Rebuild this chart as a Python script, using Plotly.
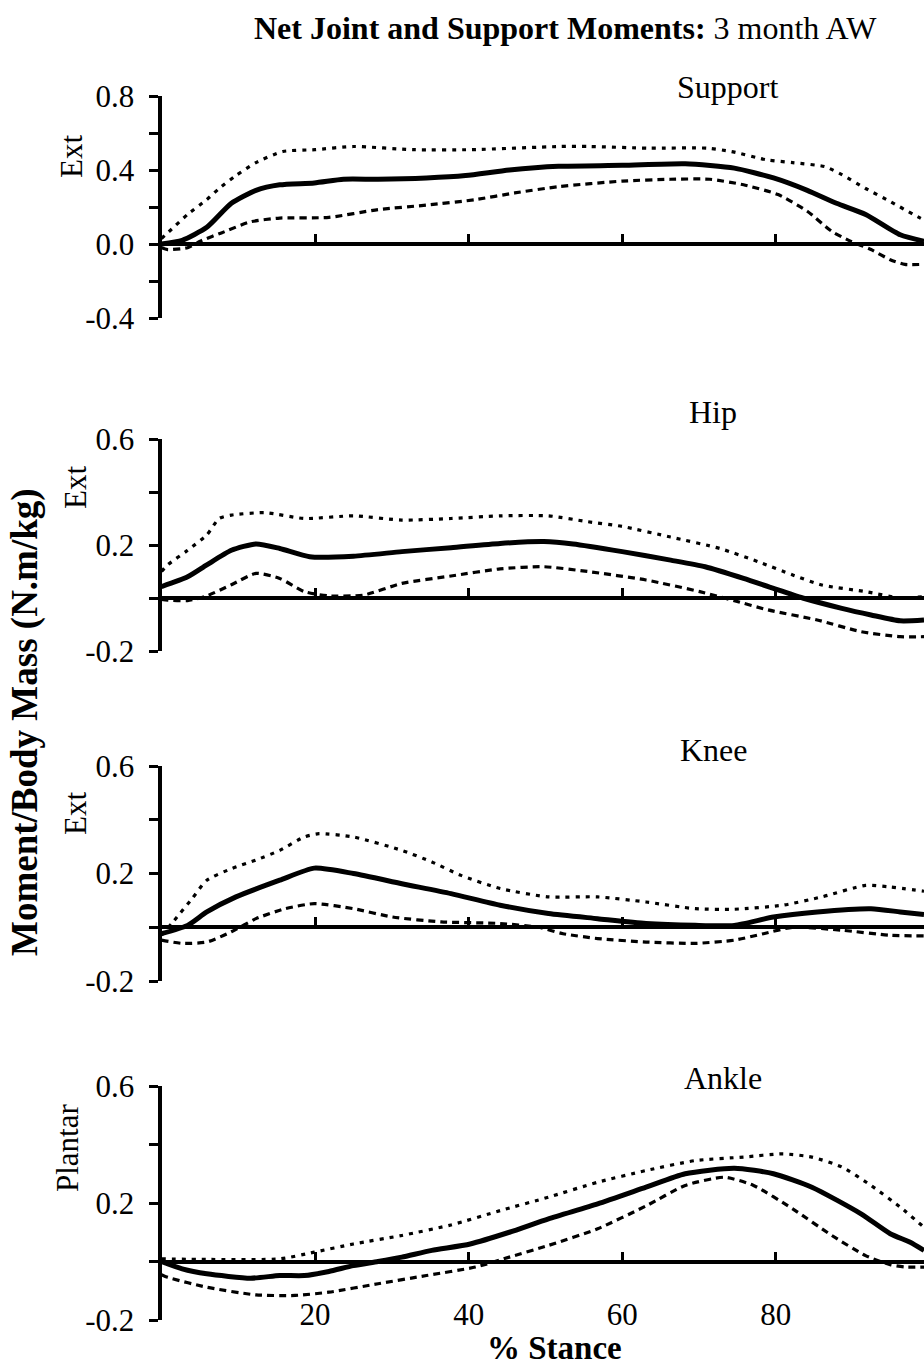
import plotly.graph_objects as go

# ---- % stance samples and moment values (N.m/kg) for each panel ----
support_mean_x = [0, 2.7, 5.9, 9.1, 12.3, 15.4, 19.9, 23.7, 28.2, 34.5, 39.6, 45.3, 51.7, 60.0, 68.2, 74.6, 79.7, 84.1, 87.9, 91.7, 96.2, 99.3]
support_mean = [0, 0.02, 0.09, 0.22, 0.29, 0.32, 0.33, 0.35, 0.35, 0.357, 0.37, 0.40, 0.42, 0.425, 0.434, 0.41, 0.357, 0.29, 0.22, 0.16, 0.05, 0.015]
support_upper_x = [0, 0.8, 3.4, 5.9, 7.5, 9.7, 12.3, 15.8, 20, 25, 32.7, 40.4, 51.9, 55.7, 63.4, 71.1, 74.2, 78.8, 82.2, 86.4, 88.6, 91.7, 94.9, 97.9, 99.3]
support_upper = [0.03, 0.06, 0.16, 0.24, 0.30, 0.37, 0.44, 0.50, 0.51, 0.527, 0.51, 0.51, 0.527, 0.527, 0.518, 0.518, 0.50, 0.455, 0.44, 0.418, 0.375, 0.30, 0.23, 0.16, 0.13]
support_lower_x = [0, 0.8, 3.4, 5.3, 7.8, 11.6, 15.4, 21.8, 28.2, 34.5, 40.9, 46.0, 51.7, 60.0, 66.3, 71.4, 75.8, 80.3, 84.1, 87.3, 89.8, 92.4, 94.9, 96.8, 99.3]
support_lower = [-0.02, -0.03, -0.02, 0.02, 0.06, 0.12, 0.14, 0.144, 0.186, 0.21, 0.24, 0.276, 0.31, 0.34, 0.35, 0.35, 0.32, 0.267, 0.177, 0.068, 0.014, -0.03, -0.085, -0.11, -0.11]

hip_mean_x = [0, 3.4, 5.9, 9.1, 12.3, 15.4, 19.3, 25.0, 31.3, 37.7, 44.1, 49.8, 53.6, 60.0, 66.3, 70.8, 75.8, 79.7, 83.5, 88.6, 92.4, 96.2, 99.3]
hip_mean = [0.043, 0.08, 0.125, 0.18, 0.204, 0.187, 0.156, 0.158, 0.175, 0.19, 0.206, 0.213, 0.204, 0.175, 0.143, 0.118, 0.074, 0.036, 0, -0.039, -0.064, -0.086, -0.083]
hip_upper_x = [0, 0.8, 3.4, 5.9, 7.5, 9.1, 13.5, 18.6, 25.0, 31.3, 37.7, 44.1, 50.4, 55.5, 60.0, 66.3, 72.7, 77.7, 82.2, 86.0, 91.7, 96.2, 99.3]
hip_upper = [0.10, 0.125, 0.18, 0.238, 0.30, 0.313, 0.322, 0.30, 0.31, 0.294, 0.30, 0.31, 0.31, 0.288, 0.27, 0.23, 0.187, 0.137, 0.087, 0.049, 0.024, 0, 0.005]
hip_lower_x = [0, 0.8, 3.4, 5.9, 9.1, 12.3, 15.4, 18.6, 21.8, 26.3, 31.3, 37.7, 44.1, 49.8, 55.5, 63.1, 70.1, 74.6, 79.0, 85.4, 91.1, 96.2, 99.3]
hip_lower = [-0.005, -0.008, -0.01, 0.008, 0.05, 0.093, 0.074, 0.024, 0.008, 0.011, 0.055, 0.083, 0.11, 0.118, 0.10, 0.068, 0.024, -0.01, -0.045, -0.083, -0.127, -0.146, -0.146]

knee_mean_x = [0, 3.4, 5.9, 9.7, 15.4, 19.9, 25.0, 31.3, 37.7, 44.1, 50.4, 56.8, 63.1, 69.5, 74.6, 79.7, 85.4, 92.4, 96.2, 99.3]
knee_mean = [-0.024, 0.007, 0.057, 0.113, 0.175, 0.22, 0.2, 0.162, 0.125, 0.082, 0.051, 0.032, 0.014, 0.007, 0.007, 0.038, 0.057, 0.069, 0.057, 0.047]
knee_upper_x = [0, 1.5, 4.0, 5.9, 9.1, 12.3, 15.4, 18.6, 20.5, 25.0, 31.3, 35.2, 39.0, 44.1, 50.4, 56.8, 63.1, 69.5, 74.6, 80.9, 86.0, 91.7, 94.9, 99.3]
knee_upper = [-0.03, 0.02, 0.107, 0.175, 0.218, 0.25, 0.286, 0.336, 0.348, 0.336, 0.286, 0.243, 0.193, 0.144, 0.113, 0.113, 0.094, 0.069, 0.067, 0.082, 0.113, 0.156, 0.15, 0.134]
knee_lower_x = [0, 2.7, 5.9, 9.1, 12.3, 16.1, 19.9, 25.0, 30.1, 36.4, 44.1, 49.1, 52.3, 56.8, 63.1, 69.5, 74.6, 78.4, 82.2, 88.6, 94.9, 99.3]
knee_lower = [-0.048, -0.06, -0.055, -0.017, 0.032, 0.069, 0.088, 0.069, 0.038, 0.02, 0.014, 0, -0.024, -0.042, -0.055, -0.06, -0.048, -0.024, 0, -0.011, -0.03, -0.032]

ankle_mean_x = [0, 2.7, 5.9, 11.6, 15.4, 18.6, 21.8, 25.0, 28.2, 31.3, 35.2, 40.2, 45.3, 50.4, 56.8, 63.1, 68.2, 74.6, 79.7, 84.7, 91.1, 94.9, 97.5, 99.3]
ankle_mean = [0, -0.025, -0.042, -0.057, -0.048, -0.048, -0.034, -0.014, 0, 0.015, 0.038, 0.06, 0.1, 0.146, 0.197, 0.254, 0.3, 0.319, 0.3, 0.254, 0.163, 0.095, 0.066, 0.038]
ankle_upper_x = [0, 5.9, 15.4, 19.9, 25.0, 31.3, 37.7, 44.1, 50.4, 56.8, 63.1, 69.5, 75.8, 80.9, 84.7, 88.6, 92.4, 96.2, 99.3]
ankle_upper = [0.009, 0.007, 0.009, 0.032, 0.06, 0.089, 0.125, 0.174, 0.22, 0.271, 0.311, 0.345, 0.357, 0.368, 0.357, 0.323, 0.26, 0.186, 0.117]
ankle_lower_x = [0, 0.8, 5.9, 12.3, 17.4, 21.8, 28.2, 34.5, 40.9, 45.3, 50.4, 56.8, 63.1, 68.2, 73.3, 77.1, 82.2, 87.3, 91.7, 94.9, 96.8, 99.3]
ankle_lower = [-0.045, -0.054, -0.088, -0.114, -0.116, -0.105, -0.076, -0.048, -0.019, 0.015, 0.055, 0.112, 0.19, 0.26, 0.288, 0.26, 0.18, 0.089, 0.02, -0.011, -0.019, -0.019]

# axis tick labels
support_ticks = [-0.4, -0.2, 0.0, 0.2, 0.4, 0.6, 0.8]
support_ticktext = ["-0.4", "", "0.0", "", "0.4", "", "0.8"]
joint_ticks = [-0.2, 0.0, 0.2, 0.4, 0.6]
joint_ticktext = ["-0.2", "", "0.2", "", "0.6"]
stance_ticks = [20, 40, 60, 80]
stance_ticktext = ["20", "40", "60", "80"]

# ---- page geometry ----
W, H = 924, 1369
X_LEFT = 161.5          # pixel of 0 % stance
X_MAX = 99.3            # stance % at the right edge of the page
SERIF = "Liberation Serif, Times New Roman, serif"

panels = [
    dict(title="Support", side="Ext", top=96, bottom=318, yr=(-0.4, 0.8),
         ticks=support_ticks, ticktext=support_ticktext,
         mean=(support_mean_x, support_mean), upper=(support_upper_x, support_upper),
         lower=(support_lower_x, support_lower),
         title_xy=(727, 87), side_xy=(71, 157)),
    dict(title="Hip", side="Ext", top=439, bottom=651, yr=(-0.2, 0.6),
         ticks=joint_ticks, ticktext=joint_ticktext,
         mean=(hip_mean_x, hip_mean), upper=(hip_upper_x, hip_upper),
         lower=(hip_lower_x, hip_lower),
         title_xy=(713, 412), side_xy=(75, 488)),
    dict(title="Knee", side="Ext", top=766, bottom=981, yr=(-0.2, 0.6),
         ticks=joint_ticks, ticktext=joint_ticktext,
         mean=(knee_mean_x, knee_mean), upper=(knee_upper_x, knee_upper),
         lower=(knee_lower_x, knee_lower),
         title_xy=(714, 750), side_xy=(75, 814)),
    dict(title="Ankle", side="Plantar", top=1086, bottom=1320, yr=(-0.2, 0.6),
         ticks=joint_ticks, ticktext=joint_ticktext,
         mean=(ankle_mean_x, ankle_mean), upper=(ankle_upper_x, ankle_upper),
         lower=(ankle_lower_x, ankle_lower),
         title_xy=(723, 1078), side_xy=(67, 1148)),
]


def fy(p):
    return 1 - p / H


def fx(p):
    return p / W


fig = go.Figure()
layout = dict(
    width=W, height=H, margin=dict(l=0, r=0, t=0, b=0, autoexpand=False),
    paper_bgcolor="white", plot_bgcolor="white", showlegend=False,
    font=dict(family=SERIF, color="black"),
)
annotations = []

for i, p in enumerate(panels):
    n = "" if i == 0 else str(i + 1)
    xa, ya = "x" + n, "y" + n
    ymin, ymax = p["yr"]
    d0, d1 = fy(p["bottom"]), fy(p["top"])
    zero_pos = d0 + (0 - ymin) / (ymax - ymin) * (d1 - d0)
    last = i == len(panels) - 1

    layout["xaxis" + n] = dict(
        domain=[fx(X_LEFT), 1], range=[0, X_MAX], anchor="free", position=zero_pos,
        showgrid=False, zeroline=False, showline=True, linecolor="black", linewidth=4,
        ticks="inside", ticklen=8, tickwidth=3, tickcolor="black",
        tickvals=stance_ticks, ticktext=stance_ticktext, showticklabels=last,
        tickfont=dict(family=SERIF, size=31, color="black"),
        ticklabelstandoff=24, automargin=False,
    )
    layout["yaxis" + n] = dict(
        domain=[d0, d1], range=[ymin, ymax], anchor=xa,
        showgrid=False, zeroline=False, showline=True, linecolor="black", linewidth=4,
        ticks="outside", ticklen=9, tickwidth=3, tickcolor="black",
        tickvals=p["ticks"], ticktext=p["ticktext"],
        tickfont=dict(family=SERIF, size=31, color="black"),
        ticklabelstandoff=8, automargin=False,
    )

    ux, uy = p["upper"]
    lx, ly = p["lower"]
    mx, my = p["mean"]
    fig.add_trace(go.Scatter(x=ux, y=uy, xaxis=xa, yaxis=ya, mode="lines",
                             line=dict(color="black", width=3.2, dash="4px,6px", shape="spline", smoothing=0.6)))
    fig.add_trace(go.Scatter(x=lx, y=ly, xaxis=xa, yaxis=ya, mode="lines",
                             line=dict(color="black", width=3.2, dash="7px,5px", shape="spline", smoothing=0.6)))
    fig.add_trace(go.Scatter(x=mx, y=my, xaxis=xa, yaxis=ya, mode="lines",
                             line=dict(color="black", width=5, shape="spline", smoothing=0.6)))

    tx, ty = p["title_xy"]
    annotations.append(dict(text=p["title"], x=fx(tx), y=fy(ty), xref="paper", yref="paper",
                            xanchor="center", yanchor="middle", showarrow=False,
                            font=dict(family=SERIF, size=32, color="black")))
    sx, sy = p["side_xy"]
    annotations.append(dict(text=p["side"], x=fx(sx), y=fy(sy), xref="paper", yref="paper",
                            xanchor="center", yanchor="middle", showarrow=False, textangle=-90,
                            font=dict(family=SERIF, size=31, color="black")))

annotations.append(dict(text="<b>Net Joint and Support Moments:</b> 3 month AW",
                        x=fx(565), y=fy(28), xref="paper", yref="paper",
                        xanchor="center", yanchor="middle", showarrow=False,
                        font=dict(family=SERIF, size=32, color="black")))
annotations.append(dict(text="<b>Moment/Body Mass (N.m/kg)</b>",
                        x=fx(25), y=fy(722), xref="paper", yref="paper",
                        xanchor="center", yanchor="middle", showarrow=False, textangle=-90,
                        font=dict(family=SERIF, size=37, color="black")))
annotations.append(dict(text="<b>% Stance</b>",
                        x=fx(554), y=fy(1348), xref="paper", yref="paper",
                        xanchor="center", yanchor="middle", showarrow=False,
                        font=dict(family=SERIF, size=33, color="black")))

layout["annotations"] = annotations
fig.update_layout(**layout)
fig.write_html("out.html")
